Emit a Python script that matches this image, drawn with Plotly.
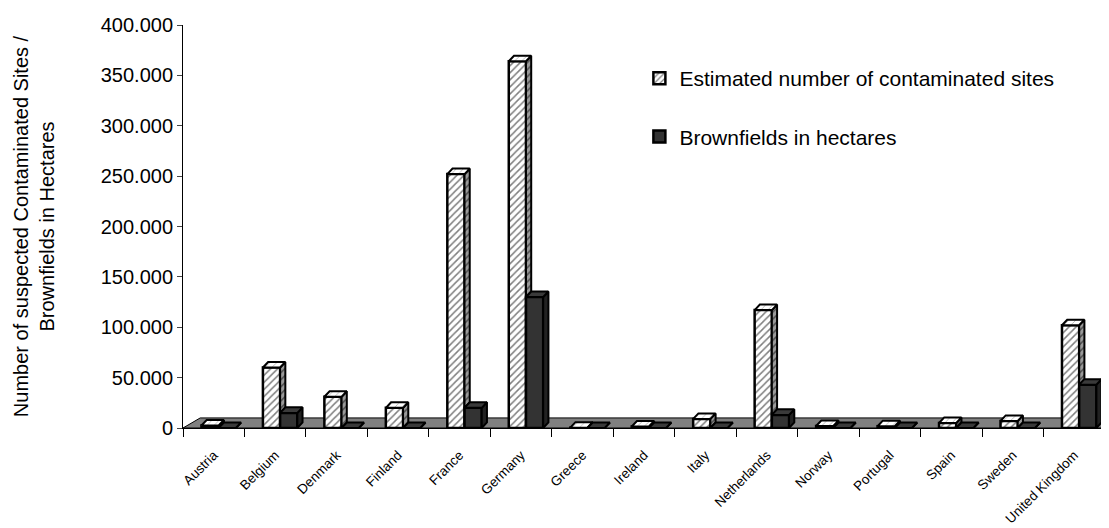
import plotly.graph_objects as go

# data
countries = ["Austria", "Belgium", "Denmark", "Finland", "France", "Germany",
             "Greece", "Ireland", "Italy", "Netherlands", "Norway", "Portugal",
             "Spain", "Sweden", "United Kingdom"]
sites = [2500, 60000, 31000, 20000, 252000, 364000, 300, 1500, 9000,
         117000, 2000, 1800, 5000, 7000, 102000]
brownfields = [0, 15000, 0, 0, 20000, 130000, 0, 0, 0,
               13000, 0, 0, 0, 0, 43000]
y_ticks = [0, 50000, 100000, 150000, 200000, 250000, 300000, 350000, 400000]

# pseudo-3D look
BAR_W = 0.28
OFF_A, OFF_B = -0.2, 0.08
DX, DY = 0.085, 5500
FLOOR_DX, FLOOR_DY = 0.28, 10000

hatch = dict(shape="/", fgcolor="black", bgcolor="white", size=5, solidity=0.3)
hatch_side = dict(shape="/", fgcolor="black", bgcolor="#9a9a9a", size=5, solidity=0.3)
hatch_top = dict(shape="/", fgcolor="#555", bgcolor="white", size=5, solidity=0.15)
dark = "#333333"

fig = go.Figure()

# front faces
fig.add_trace(go.Bar(
    x=list(range(len(countries))), y=sites, width=BAR_W, offset=OFF_A,
    name="Estimated number of contaminated sites",
    marker=dict(color="white", pattern=hatch, line=dict(color="black", width=2.5)),
    legendgroup="a",
))
fig.add_trace(go.Bar(
    x=list(range(len(countries))), y=brownfields, width=BAR_W, offset=OFF_B,
    name="Brownfields in hectares",
    marker=dict(color=dark, line=dict(color="black", width=2.5)),
    legendgroup="b",
))


def faces(values, off, cover=None):
    """top and side polygons of each bar, separated by None"""
    tx, ty, sx, sy = [], [], [], []
    for i, v in enumerate(values):
        x0 = i + off
        x1 = x0 + BAR_W
        tx += [x0, x1, x1 + DX, x0 + DX, x0, None]
        ty += [v, v, v + DY, v + DY, v, None]
        if cover is not None and cover[i] >= v:
            continue
        low = 0 if cover is None else cover[i]
        sx += [x1, x1, x1 + DX, x1 + DX, x1, None]
        sy += [low, v, v + DY, low + DY, low, None]
    return tx, ty, sx, sy


ta_x, ta_y, sa_x, sa_y = faces(sites, OFF_A, cover=brownfields)
tb_x, tb_y, sb_x, sb_y = faces(brownfields, OFF_B)

line = dict(color="black", width=2)
fig.add_trace(go.Scatter(x=sa_x, y=sa_y, fill="toself", mode="lines", line=line,
                         fillcolor="#9a9a9a", fillpattern=hatch_side,
                         showlegend=False, hoverinfo="skip"))
fig.add_trace(go.Scatter(x=ta_x, y=ta_y, fill="toself", mode="lines", line=line,
                         fillcolor="white", fillpattern=hatch_top,
                         showlegend=False, hoverinfo="skip"))
fig.add_trace(go.Scatter(x=sb_x, y=sb_y, fill="toself", mode="lines", line=line,
                         fillcolor="#222222", showlegend=False, hoverinfo="skip"))
fig.add_trace(go.Scatter(x=tb_x, y=tb_y, fill="toself", mode="lines", line=line,
                         fillcolor="#3a3a3a", showlegend=False, hoverinfo="skip"))

# grey floor under the bars
n = len(countries)
fig.add_shape(
    type="path", layer="below", xref="x", yref="y",
    path=(f"M -0.5,0 L {n - 0.5},0 L {n - 0.5 + FLOOR_DX},{FLOOR_DY} "
          f"L {-0.5 + FLOOR_DX},{FLOOR_DY} Z"),
    fillcolor="#808080", line=dict(color="black", width=1),
)

# page body has an 8px margin, so the figure is a bit smaller than the window
fig.update_layout(
    width=1101, height=520,
    margin=dict(l=175, r=4, t=17, b=100),
    paper_bgcolor="white", plot_bgcolor="white",
    font=dict(family="Liberation Sans, Arial, sans-serif", color="black"),
    separators=",.",
    barmode="overlay",
    legend=dict(x=0.495, y=0.918, xanchor="left", yanchor="top",
                font=dict(size=21), tracegroupgap=28, itemwidth=30,
                bgcolor="rgba(0,0,0,0)"),
    xaxis=dict(
        range=[-0.5, n - 0.5], tickmode="array", automargin=False,
        tickvals=list(range(n)), ticktext=countries, tickangle=-45,
        tickfont=dict(size=13.5), ticks="outside", ticklen=8,
        tickcolor="rgba(0,0,0,0)", ticklabelstandoff=5,
        showline=True, linecolor="black",
        linewidth=1, showgrid=False, zeroline=False,
        minor=dict(tickmode="array", tickvals=[i - 0.5 for i in range(n + 1)],
                   ticks="outside", ticklen=8, tickcolor="black"),
    ),
    yaxis=dict(
        range=[0, 400000], tickmode="array", tickvals=y_ticks, automargin=False,
        tickformat=",d", tickfont=dict(size=20), ticks="outside", ticklen=5,
        showline=True, linecolor="black", linewidth=1, showgrid=False,
        zeroline=False,
        title=dict(text="Number of suspected Contaminated Sites /<br>Brownfields in Hectares",
                   font=dict(size=20), standoff=40),
    ),
)

fig.write_html("out.html")
